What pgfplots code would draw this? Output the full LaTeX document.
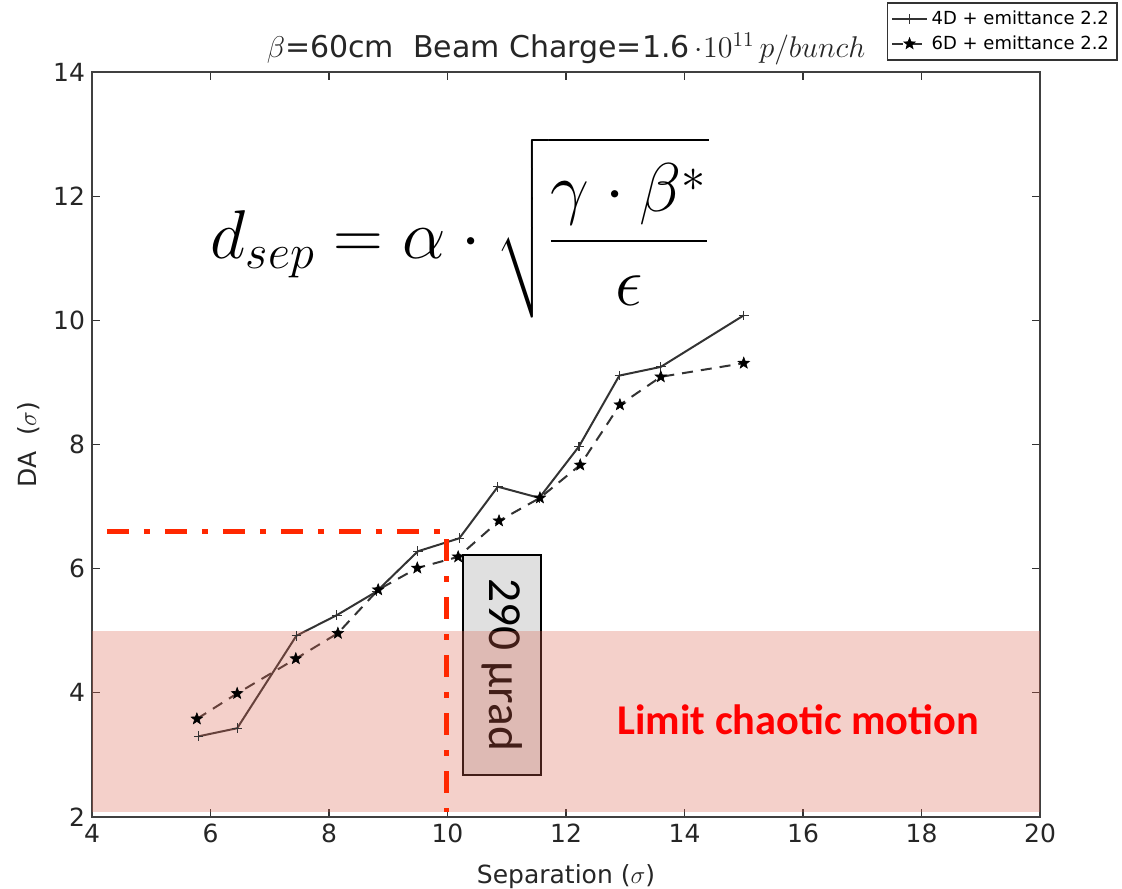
\RequirePackage{fix-cm}
\documentclass[border=0pt]{standalone}
\usepackage{exscale}
\usepackage{pgfplots}
\pgfplotsset{compat=1.18}
\usepackage{fontspec}
\setmainfont{DejaVu Sans}
\newfontfamily\carlito{Carlito}
\usetikzlibrary{plotmarks}
\definecolor{shade}{RGB}{220,100,80}
\definecolor{redline}{RGB}{255,40,0}
\definecolor{boxgray}{RGB}{224,224,224}
\pgfdeclareplotmark{fstar}{%
  \pgfpathmoveto{\pgfpointpolar{90}{\pgfplotmarksize}}%
  \pgfpathlineto{\pgfpointpolar{126}{0.42\pgfplotmarksize}}%
  \pgfpathlineto{\pgfpointpolar{162}{\pgfplotmarksize}}%
  \pgfpathlineto{\pgfpointpolar{198}{0.42\pgfplotmarksize}}%
  \pgfpathlineto{\pgfpointpolar{234}{\pgfplotmarksize}}%
  \pgfpathlineto{\pgfpointpolar{270}{0.42\pgfplotmarksize}}%
  \pgfpathlineto{\pgfpointpolar{306}{\pgfplotmarksize}}%
  \pgfpathlineto{\pgfpointpolar{342}{0.42\pgfplotmarksize}}%
  \pgfpathlineto{\pgfpointpolar{18}{\pgfplotmarksize}}%
  \pgfpathlineto{\pgfpointpolar{54}{0.42\pgfplotmarksize}}%
  \pgfpathclose
  \pgfusepathqfillstroke}
\begin{document}
\begin{tikzpicture}
\begin{axis}[
  at={(0,0)}, anchor=south west,
  scale only axis, width=474pt, height=372.5pt,
  xmin=4, xmax=20, ymin=2, ymax=14,
  xtick={4,6,...,20}, ytick={2,4,...,14},
  minor tick num=0,
  tick align=inside, major tick length=4pt,
  tick style={black!80, line width=0.6pt},
  axis line style={line width=1pt, black!75},
  /pgf/number format/assume math mode=true,
  tick label style={font=\fontsize{12.5}{14}\selectfont, black!85},
  label style={font=\fontsize{12.5}{14}\selectfont, black!85},
  xlabel={Separation ($\sigma$)},
  xlabel style={yshift=-4pt},
  ylabel={DA\ \ ($\sigma$)},
  title={$\beta$=60cm\ \ Beam Charge=1.6$\,\cdot10^{11}\,p/bunch$},
  title style={font=\fontsize{15}{17}\selectfont, black!85, yshift=-6pt},
  legend style={at={(1.082,1.094)}, anchor=north east, font=\fontsize{9}{10.5}\selectfont,
    draw=black!80, line width=0.8pt, inner sep=2pt, row sep=0pt},
  legend cell align=left,
]
\addplot[black!80, line width=1pt, mark=+, mark size=2.4pt, mark options={solid, line width=0.6pt}] coordinates {
 (5.8,3.30) (6.45,3.43) (7.45,4.92) (8.13,5.25) (8.8,5.63) (9.5,6.28) (10.2,6.49)
 (10.85,7.32) (11.55,7.14) (12.22,7.97) (12.9,9.11) (13.6,9.25) (15.0,10.08)};
\addlegendentry{4D + emittance 2.2}
\addplot[black!80, line width=1pt, dash pattern=on 5.5pt off 4pt, mark=fstar, mark size=3pt, mark options={solid, fill=black, draw=black, line width=0.3pt}] coordinates {
 (5.77,3.58) (6.45,3.99) (7.44,4.55) (8.15,4.96) (8.83,5.66) (9.49,6.01) (10.18,6.19)
 (10.87,6.77) (11.56,7.14) (12.24,7.67) (12.91,8.64) (13.6,9.09) (15.0,9.31)};
\addlegendentry{6D + emittance 2.2}
\node[draw=black, line width=1pt, fill=boxgray, rotate=-90, minimum width=110pt, minimum height=39pt,
  inner sep=0pt, font=\carlito\fontsize{23.7}{26}\selectfont] at (axis cs:10.92,4.45) {290 µrad};
\addplot[forget plot, draw=none, fill=shade, fill opacity=0.3] coordinates {(4,2.08) (20,2.08) (20,5) (4,5)} -- cycle;
\addplot[forget plot, redline, line width=2.5pt, dash pattern=on 11pt off 7.5pt on 3pt off 7.5pt] coordinates {(4.25,6.6) (9.99,6.6) (9.99,2.08)};
\node[font=\carlito\bfseries\fontsize{21.2}{25}\selectfont, text={rgb,255:red,255;green,0;blue,0}] at (axis cs:15.92,3.56) {Limit chaotic motion};
\node[font=\fontsize{34.5}{40}\selectfont] at (axis cs:10.21,11.49) {$\displaystyle d_{sep}=\alpha\cdot\sqrt{\frac{\gamma\cdot\beta^*}{\epsilon}}$};
\end{axis}
\pgfresetboundingbox
\path[use as bounding box] (-46pt,-35.5pt) rectangle (515pt,408.5pt);
\end{tikzpicture}
\end{document}
